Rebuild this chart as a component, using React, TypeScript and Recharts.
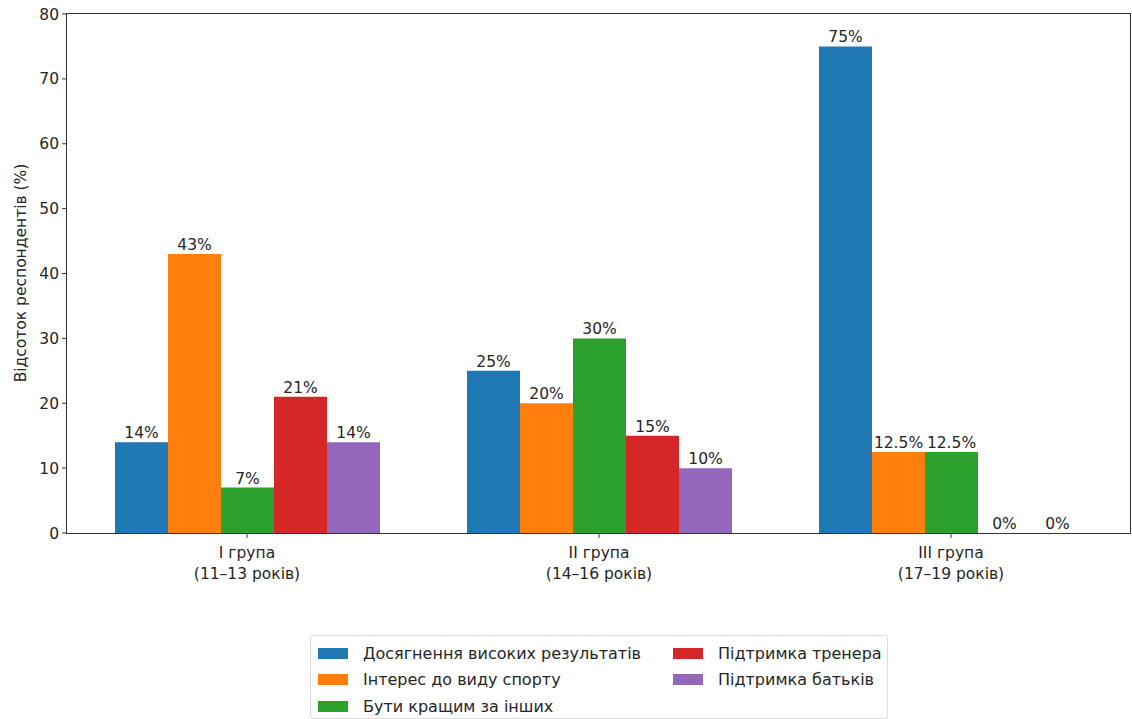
import React from 'react';
import { BarChart, Bar, XAxis, YAxis, Label, Rectangle } from 'recharts';

// groups on the x axis (two-line tick labels)
const groupNames = ['I група', 'II група', 'III група'];
const ageRanges = ['(11–13 років)', '(14–16 років)', '(17–19 років)'];

// series values, % of respondents
const achievement = [14, 25, 75];
const interest = [43, 20, 12.5];
const beBetter = [7, 30, 12.5];
const coachSupport = [21, 15, 0];
const parentSupport = [14, 10, 0];

const seriesNames = [
  'Досягнення високих результатів',
  'Інтерес до виду спорту',
  'Бути кращим за інших',
  'Підтримка тренера',
  'Підтримка батьків',
];
const seriesColors = ['#1f77b4', '#ff7f0e', '#2ca02c', '#d62728', '#9467bd'];
const seriesValues = [achievement, interest, beBetter, coachSupport, parentSupport];

const yTicks = [0, 10, 20, 30, 40, 50, 60, 70, 80];

const data = groupNames.map((name, i) => {
  const row: Record<string, string | number> = { group: name, age: ageRanges[i] };
  seriesValues.forEach((vals, s) => {
    row[`s${s}`] = vals[i];
  });
  return row;
});

const FONT = '"DejaVu Sans", sans-serif';
const FS = 15.5;
const TEXT = '#262626';
const AXIS = '#333';

const GroupTick = (props: any) => {
  const { x, y, payload, index } = props;
  return (
    <g transform={`translate(${x},${y})`}>
      <text textAnchor="middle" fontSize={FS} fill={TEXT} fontFamily={FONT}>
        <tspan x={0} dy={18}>{payload.value}</tspan>
        <tspan x={0} dy={21}>{ageRanges[index]}</tspan>
      </text>
    </g>
  );
};

const pctText = (v: number) => `${v}%`;

// bar shape that also writes the value on top, so zero bars still get "0%"
const LabelledBar = (props: any) => {
  const { x, y, width, height, value, fill } = props;
  const v = Array.isArray(value) ? value[1] - value[0] : value;
  return (
    <g>
      {height > 0 && <Rectangle x={x} y={y} width={width} height={height} fill={fill} />}
      <text
        x={x + width / 2}
        y={y - 4}
        textAnchor="middle"
        fontSize={FS}
        fill={TEXT}
        fontFamily={FONT}
      >
        {pctText(v)}
      </text>
    </g>
  );
};

const legendOrder = [[0, 1, 2], [3, 4]];

const Legend = () => (
  <div
    style={{
      position: 'absolute',
      left: 310,
      top: 635,
      width: 578,
      height: 84,
      border: '1px solid #dcdcdc',
      borderRadius: 3,
      boxSizing: 'border-box',
      fontFamily: FONT,
      fontSize: 16,
      color: TEXT,
    }}
  >
    {legendOrder.map((col, c) => (
      <div key={c} style={{ position: 'absolute', left: c === 0 ? 7 : 362, top: 4 }}>
        {col.map((s) => (
          <div key={s} style={{ display: 'flex', alignItems: 'center', height: 26.5, whiteSpace: 'nowrap' }}>
            <span
              style={{
                display: 'inline-block',
                width: 30,
                height: 11,
                background: seriesColors[s],
                marginRight: 15,
              }}
            />
            <span>{seriesNames[s]}</span>
          </div>
        ))}
      </div>
    ))}
  </div>
);

const App: React.FC = () => {
  return (
    <div style={{ position: 'absolute', left: 0, top: 0, width: 1132, height: 719, background: '#fff' }}>
      <BarChart
        width={1132}
        height={600}
        data={data}
        margin={{ top: 14, right: 1, left: 20, bottom: 0 }}
        barGap={0}
        barSize={53}
      >
        <XAxis
          dataKey="group"
          height={67}
          padding={{ left: 4, right: 4 }}
          axisLine={false}
          tickLine={{ stroke: AXIS }}
          tickSize={5}
          tickMargin={2}
          interval={0}
          tick={<GroupTick />}
        />
        <YAxis
          width={47}
          domain={[0, 80]}
          ticks={yTicks}
          interval={0}
          axisLine={false}
          tickLine={{ stroke: AXIS }}
          tickSize={5}
          tickMargin={3}
          tick={{ fontSize: FS, fill: TEXT, fontFamily: FONT }}
        >
          <Label
            content={() => (
              <text
                transform="translate(21,273) rotate(-90)"
                textAnchor="middle"
                dominantBaseline="middle"
                fontSize={FS}
                fill={TEXT}
                fontFamily={FONT}
              >
                Відсоток респондентів (%)
              </text>
            )}
          />
        </YAxis>
        {seriesNames.map((name, s) => (
          <Bar
            key={name}
            dataKey={`s${s}`}
            name={name}
            fill={seriesColors[s]}
            isAnimationActive={false}
            shape={<LabelledBar />}
          />
        ))}
      </BarChart>
      {/* axes frame (matplotlib style box) */}
      <div
        style={{
          position: 'absolute',
          left: 66,
          top: 13,
          width: 1065,
          height: 521,
          border: `1.2px solid ${AXIS}`,
          boxSizing: 'border-box',
          pointerEvents: 'none',
        }}
      />
      <Legend />
    </div>
  );
};

export default App;
